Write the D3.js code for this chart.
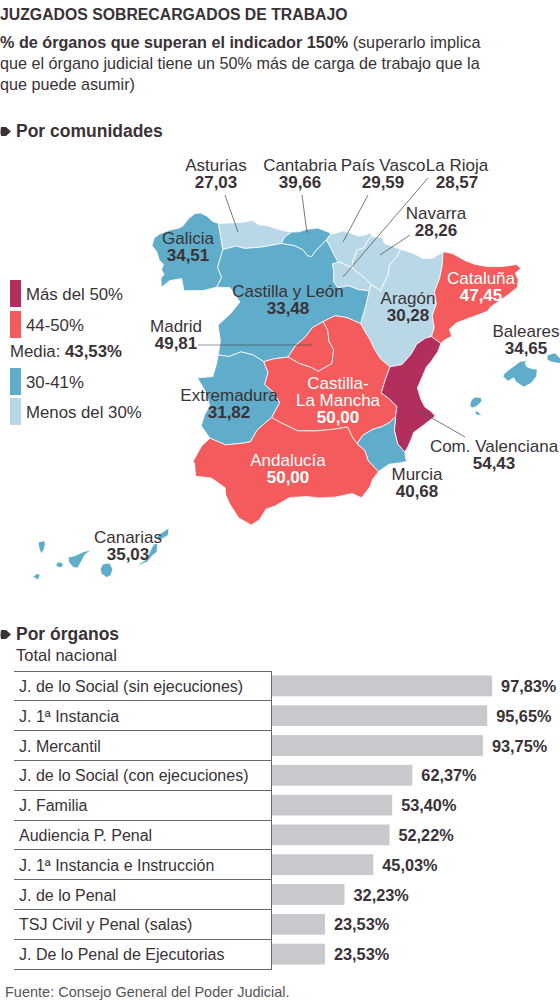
<!DOCTYPE html>
<html>
<head>
<meta charset="utf-8">
<script src="https://cdn.jsdelivr.net/npm/d3@7"></script>
<style>
body { margin: 0; background: #fff; }
svg { display: block; font-family: Arial, "Liberation Sans", sans-serif; }
</style>
</head>
<body>
<svg id="chart" width="560" height="1002"></svg>
<script>
// ---- datos ----
var comunidades = ["Galicia", "Asturias", "Cantabria", "País Vasco", "Navarra", "La Rioja",
    "Aragón", "Cataluña", "Castilla y León", "Madrid", "Castilla-La Mancha", "Extremadura",
    "Com. Valenciana", "Murcia", "Andalucía", "Baleares", "Canarias"];
var porcentajes = [34.51, 27.03, 39.66, 29.59, 28.26, 28.57,
    30.28, 47.45, 33.48, 49.81, 50.00, 31.82,
    54.43, 40.68, 50.00, 34.65, 35.03];
// tramo de la leyenda de cada comunidad (0 = más del 50%, 3 = menos del 30%)
var tramos = [2, 3, 2, 3, 3, 3, 3, 1, 2, 1, 1, 2, 0, 2, 1, 2, 2];
var leyenda = ["Más del 50%", "44-50%", "30-41%", "Menos del 30%"];
var media = 43.53;

var organos = ["J. de lo Social (sin ejecuciones)", "J. 1ª Instancia", "J. Mercantil",
    "J. de lo Social (con ejecuciones)", "J. Familia", "Audiencia P. Penal",
    "J. 1ª Instancia e Instrucción", "J. de lo Penal", "TSJ Civil y Penal (salas)",
    "J. De lo Penal de Ejecutorias"];
var valoresOrganos = [97.83, 95.65, 93.75, 62.37, 53.40, 52.22, 45.03, 32.23, 23.53, 23.53];

// ---- geografía aproximada (lon, lat), tramos de frontera compartidos ----
var B = {
    galCoast: [[-8.87,41.87],[-8.9,42.1],[-8.8,42.2],[-8.9,42.3],[-8.85,42.45],[-9.0,42.55],[-9.1,42.75],[-9.28,42.9],[-9.22,43.1],[-9.05,43.2],[-8.7,43.32],[-8.4,43.38],[-8.25,43.45],[-8.1,43.62],[-7.87,43.77],[-7.68,43.79],[-7.45,43.72],[-7.25,43.6],[-7.04,43.55]],
    astCoast: [[-7.04,43.55],[-6.7,43.57],[-6.25,43.6],[-5.85,43.66],[-5.66,43.56],[-5.3,43.53],[-5.06,43.47],[-4.75,43.42],[-4.51,43.39]],
    canCoast: [[-4.51,43.39],[-4.25,43.4],[-3.95,43.47],[-3.8,43.48],[-3.6,43.5],[-3.45,43.46],[-3.2,43.39],[-3.15,43.35]],
    pvCoast: [[-3.15,43.35],[-3.0,43.37],[-2.72,43.43],[-2.5,43.38],[-2.2,43.3],[-1.98,43.32],[-1.79,43.38]],
    pvFr: [[-1.79,43.38],[-1.73,43.3]],
    navFr: [[-1.73,43.3],[-1.6,43.26],[-1.38,43.26],[-1.3,43.1],[-1.0,43.02],[-0.75,42.95]],
    araFr: [[-0.75,42.95],[-0.3,42.83],[0.0,42.7],[0.35,42.7],[0.7,42.85]],
    catFr: [[0.7,42.85],[1.0,42.8],[1.45,42.6],[1.75,42.5],[2.2,42.42],[2.7,42.4],[3.17,42.43]],
    catCoast: [[3.17,42.43],[3.32,42.32],[3.12,42.22],[3.2,42.05],[3.15,41.85],[2.8,41.67],[2.2,41.4],[2.1,41.3],[1.8,41.23],[1.25,41.1],[1.05,41.05],[0.8,40.9],[0.87,40.72],[0.6,40.62],[0.5,40.55]],
    valCoast: [[0.5,40.55],[0.4,40.36],[0.15,40.1],[0.0,39.98],[-0.2,39.65],[-0.32,39.45],[-0.22,39.17],[-0.1,38.97],[0.1,38.85],[0.23,38.73],[0.05,38.63],[-0.13,38.53],[-0.48,38.34],[-0.55,38.2],[-0.68,37.98],[-0.78,37.85]],
    murCoast: [[-0.78,37.85],[-0.75,37.65],[-0.68,37.62],[-0.98,37.58],[-1.3,37.55],[-1.58,37.4],[-1.63,37.37]],
    andCoast: [[-1.63,37.37],[-1.82,37.18],[-1.9,37.0],[-2.17,36.72],[-2.47,36.83],[-3.0,36.74],[-3.52,36.72],[-3.88,36.75],[-4.42,36.72],[-4.88,36.5],[-5.15,36.42],[-5.35,36.15],[-5.6,36.01],[-6.0,36.18],[-6.3,36.53],[-6.35,36.62],[-6.43,36.75],[-6.45,36.92],[-6.9,37.15],[-7.4,37.18]],
    andPt: [[-7.4,37.18],[-7.45,37.5],[-7.5,37.55],[-7.25,37.95],[-7.0,38.15]],
    extPt: [[-7.0,38.15],[-7.3,38.45],[-7.2,38.75],[-7.05,38.95],[-7.2,39.3],[-7.5,39.65],[-7.0,39.7],[-6.9,40.0],[-6.85,40.25]],
    cylPt: [[-6.85,40.25],[-6.8,40.6],[-6.9,41.0],[-6.5,41.3],[-6.2,41.6],[-6.55,41.95],[-7.0,41.95]],
    galPt: [[-7.0,41.95],[-7.45,41.85],[-8.1,41.82],[-8.2,42.12],[-8.6,42.05],[-8.87,41.87]],
    galAst: [[-7.04,43.55],[-6.95,43.25],[-6.85,42.9]],
    galCyl: [[-6.85,42.9],[-7.0,42.45],[-6.85,42.2],[-7.0,41.95]],
    astCyl: [[-6.85,42.9],[-6.4,43.0],[-6.1,42.95],[-5.5,43.0],[-4.85,43.1]],
    astCan: [[-4.85,43.1],[-4.75,43.25],[-4.51,43.39]],
    canCyl: [[-4.85,43.1],[-4.4,43.05],[-4.1,42.95],[-3.95,42.8],[-3.8,42.78],[-3.7,42.9],[-3.5,43.05],[-3.3,43.2]],
    canPv: [[-3.3,43.2],[-3.15,43.35]],
    pvCyl: [[-3.3,43.2],[-3.15,43.0],[-3.05,42.85],[-2.9,42.65]],
    pvRio: [[-2.9,42.65],[-2.7,42.6],[-2.42,42.5]],
    pvNav: [[-2.42,42.5],[-2.4,42.65],[-2.3,42.85],[-2.25,42.95],[-2.0,43.0],[-1.9,43.15],[-1.73,43.3]],
    rioNav: [[-2.42,42.5],[-2.3,42.42],[-2.0,42.25],[-1.78,42.08]],
    navAra: [[-1.78,42.08],[-1.45,41.92],[-1.35,42.1],[-1.2,42.3],[-1.15,42.55],[-0.9,42.75],[-0.75,42.95]],
    rioAra: [[-1.78,42.08],[-1.85,41.92]],
    rioCyl: [[-1.85,41.92],[-2.2,41.95],[-2.55,42.05],[-2.9,42.0],[-3.05,42.15],[-3.05,42.45],[-3.1,42.6],[-2.9,42.65]],
    araCyl: [[-1.85,41.92],[-1.95,41.6],[-2.05,41.35],[-2.15,41.1]],
    araCat: [[0.7,42.85],[0.65,42.5],[0.55,42.2],[0.35,41.85],[0.4,41.55],[0.25,41.25],[0.3,40.95],[0.2,40.73]],
    catVal: [[0.2,40.73],[0.5,40.55]],
    araVal: [[0.2,40.73],[0.0,40.7],[-0.3,40.55],[-0.5,40.3],[-0.8,40.05],[-1.2,40.0]],
    araClm: [[-1.2,40.0],[-1.5,40.2],[-1.7,40.45],[-1.85,40.7],[-2.05,40.95],[-2.15,41.1]],
    cylClm: [[-2.15,41.1],[-2.6,41.25],[-3.0,41.3],[-3.4,41.15]],
    madCyl: [[-3.4,41.15],[-3.75,41.0],[-4.0,40.75],[-4.3,40.55],[-4.55,40.25]],
    madClm: [[-3.4,41.15],[-3.25,40.95],[-3.2,40.65],[-3.05,40.45],[-3.1,40.1],[-3.55,39.9],[-3.8,40.0],[-4.2,40.1],[-4.55,40.25]],
    cylClmW: [[-4.55,40.25],[-5.0,40.2],[-5.35,40.12]],
    cylExt: [[-5.35,40.12],[-5.7,40.28],[-6.1,40.35],[-6.5,40.22],[-6.85,40.25]],
    extClm: [[-5.35,40.12],[-5.2,39.85],[-5.3,39.55],[-5.0,39.35],[-4.8,39.1],[-5.05,38.72]],
    extAnd: [[-5.05,38.72],[-5.5,38.4],[-5.7,38.1],[-6.0,38.05],[-6.5,38.0],[-7.0,38.15]],
    clmAnd: [[-5.05,38.72],[-4.7,38.58],[-4.2,38.4],[-3.6,38.4],[-3.0,38.45],[-2.6,38.5],[-2.45,38.25],[-2.3,38.08]],
    andMur: [[-2.3,38.08],[-2.05,37.9],[-1.95,37.65],[-1.63,37.37]],
    clmMur: [[-2.3,38.08],[-2.1,38.3],[-1.75,38.45],[-1.5,38.5],[-1.25,38.6],[-1.05,38.75]],
    murVal: [[-1.05,38.75],[-1.1,38.4],[-1.0,38.05],[-0.78,37.85]],
    clmVal: [[-1.05,38.75],[-1.0,39.0],[-1.25,39.2],[-1.5,39.35],[-1.35,39.7],[-1.2,40.0]]
};

// cada comunidad peninsular como secuencia de tramos ("-" = tramo invertido)
var formas = {
    "Galicia": ["galCoast", "galAst", "galCyl", "galPt"],
    "Asturias": ["astCoast", "-astCan", "-astCyl", "-galAst"],
    "Cantabria": ["canCoast", "-canPv", "-canCyl", "astCan"],
    "País Vasco": ["pvCoast", "pvFr", "-pvNav", "-pvRio", "-pvCyl", "canPv"],
    "Navarra": ["navFr", "-navAra", "-rioNav", "pvNav"],
    "La Rioja": ["pvRio", "rioNav", "rioAra", "rioCyl"],
    "Aragón": ["araFr", "araCat", "araVal", "araClm", "-araCyl", "-rioAra", "navAra"],
    "Cataluña": ["catFr", "catCoast", "-catVal", "-araCat"],
    "Castilla y León": ["cylPt", "-galCyl", "astCyl", "canCyl", "pvCyl", "-rioCyl", "araCyl", "cylClm", "madCyl", "cylClmW", "cylExt"],
    "Madrid": ["madCyl", "-madClm"],
    "Castilla-La Mancha": ["madClm", "cylClmW", "extClm", "clmAnd", "clmMur", "clmVal", "araClm", "cylClm"],
    "Extremadura": ["extPt", "-cylExt", "extClm", "extAnd"],
    "Com. Valenciana": ["catVal", "valCoast", "-murVal", "clmVal", "-araVal"],
    "Murcia": ["murCoast", "-andMur", "clmMur", "murVal"],
    "Andalucía": ["andCoast", "andPt", "-extAnd", "clmAnd", "andMur"]
};

var islasBaleares = [
    [[2.35,39.6],[2.5,39.47],[2.7,39.55],[2.75,39.45],[3.0,39.3],[3.25,39.38],[3.45,39.55],[3.48,39.72],[3.3,39.75],[3.15,39.8],[3.1,39.9],[3.2,39.95],[2.95,39.95],[2.6,39.78],[2.4,39.67]],
    [[3.82,39.95],[3.85,40.06],[4.1,40.1],[4.32,39.9],[4.25,39.82],[3.95,39.88]],
    [[1.22,38.92],[1.3,38.85],[1.43,38.88],[1.62,39.0],[1.6,39.1],[1.4,39.12],[1.28,39.05]],
    [[1.38,38.72],[1.45,38.66],[1.6,38.65],[1.5,38.73],[1.42,38.78]]
];
var islasCanarias = [
    [[-18.16,27.76],[-18.05,27.7],[-17.95,27.65],[-17.88,27.8],[-17.98,27.85],[-18.08,27.78]],
    [[-17.75,28.85],[-17.97,28.8],[-17.93,28.6],[-17.85,28.45],[-17.75,28.6],[-17.72,28.75]],
    [[-17.35,28.1],[-17.3,28.2],[-17.15,28.2],[-17.08,28.1],[-17.2,28.02]],
    [[-16.92,28.35],[-16.7,28.4],[-16.4,28.52],[-16.12,28.58],[-16.35,28.42],[-16.48,28.2],[-16.6,28.02],[-16.75,28.05],[-16.9,28.2]],
    [[-15.82,28.0],[-15.72,28.15],[-15.5,28.18],[-15.38,28.0],[-15.45,27.8],[-15.6,27.74],[-15.78,27.85]],
    [[-14.5,28.08],[-14.35,28.15],[-14.2,28.2],[-14.0,28.4],[-13.85,28.5],[-13.82,28.75],[-13.95,28.75],[-14.05,28.6],[-14.15,28.42],[-14.28,28.25],[-14.45,28.16]],
    [[-13.87,28.9],[-13.75,28.85],[-13.45,29.0],[-13.42,29.22],[-13.55,29.15],[-13.8,29.02]]
];

// ---- maquetación de etiquetas (px) ----
var etiquetas = {
    "Asturias":   {x: 216, y: 171, linea: [225, 195, 238, 232]},
    "Cantabria":  {x: 300, y: 171, linea: [302, 195, 307, 233]},
    "País Vasco": {x: 383, y: 171, linea: [368, 195, 343, 242]},
    "La Rioja":   {x: 457, y: 171, linea: [428, 178, 343, 277]},
    "Navarra":    {x: 436, y: 219, linea: [410, 235, 380, 255]},
    "Galicia":    {x: 188, y: 244},
    "Castilla y León": {x: 288, y: 297},
    "Aragón":     {x: 408, y: 304},
    "Cataluña":   {x: 481, y: 284, blanco: true},
    "Baleares":   {x: 526, y: 337},
    "Madrid":     {x: 176, y: 332, linea: [198, 345, 312, 345], suave: true},
    "Extremadura": {x: 229, y: 401},
    "Castilla-La Mancha": {x: 338, y: 389, blanco: true, texto: ["Castilla-", "La Mancha"]},
    "Andalucía":  {x: 288, y: 466, blanco: true},
    "Murcia":     {x: 417, y: 480},
    "Com. Valenciana": {x: 494, y: 452, linea: [465, 437, 418, 410]},
    "Canarias":   {x: 128, y: 543}
};

var colores = ["#b22e5c", "#f35b5c", "#5faccb", "#b8d8e7"];
var tinta = "#3a3236";
var es = d3.formatLocale({decimal: ",", thousands: ".", grouping: [3], currency: ["", " €"]});
var fmt = es.format(".2f");

var svg = d3.select("#chart");

// ---- cabecera ----
svg.append("text").attr("x", 0).attr("y", 20)
    .attr("font-size", 15.8).attr("font-weight", "bold").attr("fill", tinta)
    .text("JUZGADOS SOBRECARGADOS DE TRABAJO");

var sub = svg.append("text").attr("font-size", 16.2).attr("fill", tinta);
var l1 = sub.append("tspan").attr("x", 0).attr("y", 48);
l1.append("tspan").attr("font-weight", "bold").text("% de órganos que superan el indicador 150%");
l1.append("tspan").text(" (superarlo implica");
sub.append("tspan").attr("x", 0).attr("y", 69).text("que el órgano judicial tiene un 50% más de carga de trabajo que la");
sub.append("tspan").attr("x", 0).attr("y", 89.5).text("que puede asumir)");

function seccion(y, texto) {
    svg.append("path")
        .attr("d", "M1," + (y - 10) + "h5l5,4.5l-5,4.5h-5q-1,-4.5 0,-9z")
        .attr("fill", tinta);
    svg.append("text").attr("x", 16).attr("y", y)
        .attr("font-size", 17.5).attr("font-weight", "bold").attr("fill", tinta)
        .text(texto);
}
seccion(137, "Por comunidades");

// ---- leyenda ----
var filasLeyenda = [
    {tipo: 0, y: 280}, {tipo: 1, y: 311}, {media: true, y: 341},
    {tipo: 2, y: 368}, {tipo: 3, y: 398}
];
filasLeyenda.forEach(function(f) {
    if (f.media) {
        var t = svg.append("text").attr("x", 10).attr("y", f.y + 16)
            .attr("font-size", 16.8).attr("fill", tinta);
        t.append("tspan").text("Media: ");
        t.append("tspan").attr("font-weight", "bold").text(fmt(media) + "%");
        return;
    }
    svg.append("rect").attr("x", 10).attr("y", f.y).attr("width", 11).attr("height", 27)
        .attr("fill", colores[f.tipo]);
    svg.append("text").attr("x", 26).attr("y", f.y + 20)
        .attr("font-size", 16.8).attr("fill", tinta).text(leyenda[f.tipo]);
});

// ---- mapa ----
function anillo(spec) {
    var pts = [];
    spec.forEach(function(k) {
        var seg = k[0] === "-" ? B[k.slice(1)].slice().reverse() : B[k];
        pts = pts.concat(pts.length ? seg.slice(1) : seg);
    });
    return pts;
}

var peninsula = Object.keys(formas).map(function(n) { return anillo(formas[n]); });
var todos = [].concat.apply([], peninsula);

var proj = d3.geoConicConformal().parallels([36, 44]).rotate([3, 0])
    .fitExtent([[150, 213], [523, 525]], {type: "MultiPoint", coordinates: todos});
var projCan = d3.geoConicConformal().parallels([27, 30]).rotate([16, 0])
    .fitExtent([[23, 528], [178, 580]], {type: "MultiPoint", coordinates: [].concat.apply([], islasCanarias)});

var linea = d3.line();
function trazo(ring, p) { return linea(ring.map(p)) + "Z"; }

var gMapa = svg.append("g");
comunidades.forEach(function(nombre, i) {
    var color = colores[tramos[i]];
    var d, desplaza = null;
    if (formas[nombre]) d = trazo(anillo(formas[nombre]), proj);
    else if (nombre === "Baleares") {
        d = islasBaleares.map(function(r) { return trazo(r, proj); }).join("");
        desplaza = "translate(4,-2)";
    }
    else d = islasCanarias.map(function(r) { return trazo(r, projCan); }).join("");
    gMapa.append("path").attr("d", d).attr("fill", color)
        .attr("transform", desplaza)
        .attr("stroke", "#fff").attr("stroke-width", 0.8).attr("stroke-linejoin", "round");
});

// líneas guía y rótulos
var gEtiq = svg.append("g");
comunidades.forEach(function(nombre) {
    var e = etiquetas[nombre];
    if (e.linea) {
        gEtiq.append("line")
            .attr("x1", e.linea[0]).attr("y1", e.linea[1])
            .attr("x2", e.linea[2]).attr("y2", e.linea[3])
            .attr("stroke", e.suave ? "#333" : "#555")
            .attr("stroke-opacity", e.suave ? 0.35 : 1)
            .attr("stroke-width", e.suave ? 1.5 : 0.8);
    }
});
comunidades.forEach(function(nombre, i) {
    var e = etiquetas[nombre];
    var lineas = e.texto || [nombre];
    var col = e.blanco ? "#fff" : tinta;
    var t = gEtiq.append("text").attr("text-anchor", "middle").attr("fill", col).attr("font-size", 17);
    lineas.forEach(function(l, j) {
        t.append("tspan").attr("x", e.x).attr("y", e.y + j * 17).text(l);
    });
    t.append("tspan").attr("x", e.x).attr("y", e.y + lineas.length * 17)
        .attr("font-weight", "bold").text(fmt(porcentajes[i]));
});

// ---- por órganos ----
seccion(640, "Por órganos");
svg.append("text").attr("x", 16).attr("y", 661).attr("font-size", 16.5).attr("fill", tinta)
    .text("Total nacional");

var x = d3.scaleLinear().domain([0, 100]).range([272, 497]);
var y = d3.scaleBand().domain(organos).range([671, 969]);

var gBar = svg.append("g");
gBar.selectAll("line.fila").data(organos.concat([null])).enter().append("line")
    .attr("class", "fila")
    .attr("x1", 14).attr("x2", 272)
    .attr("y1", function(d) { return d === null ? y.range()[1] : y(d); })
    .attr("y2", function(d) { return d === null ? y.range()[1] : y(d); })
    .attr("stroke", "#666").attr("stroke-width", 1)
    .attr("shape-rendering", "crispEdges");
gBar.append("line").attr("x1", 271.5).attr("x2", 271.5)
    .attr("y1", y.range()[0]).attr("y2", y.range()[1])
    .attr("stroke", "#666").attr("stroke-width", 1);

gBar.selectAll("rect").data(valoresOrganos).enter().append("rect")
    .attr("x", x(0))
    .attr("y", function(d, i) { return y(organos[i]) + 4.5; })
    .attr("width", function(d) { return x(d) - x(0); })
    .attr("height", y.bandwidth() - 9)
    .attr("fill", "#c9c8cd");

gBar.selectAll("text.nombre").data(organos).enter().append("text")
    .attr("class", "nombre")
    .attr("x", 19)
    .attr("y", function(d) { return y(d) + y.bandwidth() / 2 + 6; })
    .attr("font-size", 16).attr("fill", tinta)
    .text(function(d) { return d; });

gBar.selectAll("text.valor").data(valoresOrganos).enter().append("text")
    .attr("class", "valor")
    .attr("x", function(d) { return x(d) + 9; })
    .attr("y", function(d, i) { return y(organos[i]) + y.bandwidth() / 2 + 6; })
    .attr("font-size", 16.3).attr("font-weight", "bold").attr("fill", tinta)
    .text(function(d) { return fmt(d) + "%"; });

svg.append("text").attr("x", 5).attr("y", 997).attr("font-size", 14.5).attr("fill", "#555")
    .text("Fuente: Consejo General del Poder Judicial.");
</script>
</body>
</html>
